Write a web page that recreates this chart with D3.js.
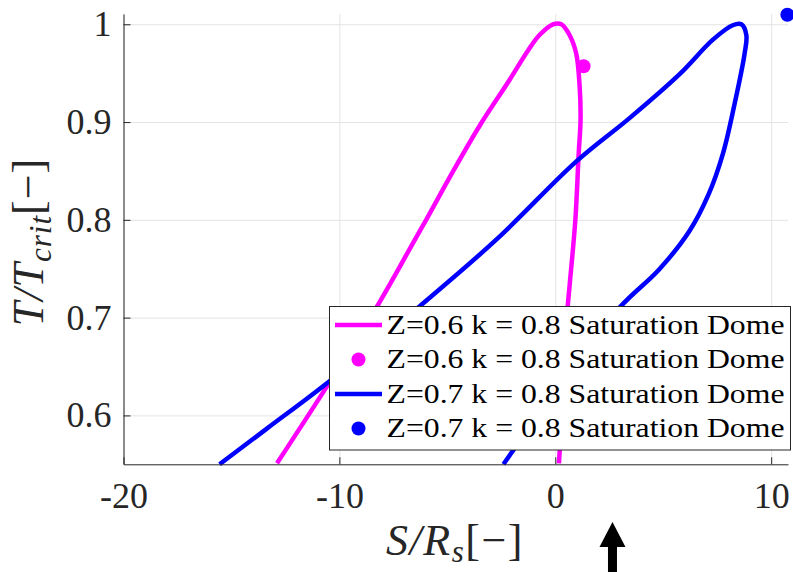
<!DOCTYPE html>
<html>
<head>
<meta charset="utf-8">
<script src="https://cdn.jsdelivr.net/npm/d3@7"></script>
<style>
  html, body { margin: 0; padding: 0; background: #fff; }
  svg { display: block; font-family: "Liberation Serif", "DejaVu Serif", serif; }
</style>
</head>
<body>
<svg id="chart" width="793" height="572"></svg>
<script>
// Saturation dome curves (S/Rs, T/Tcrit)
const domeZ06 = [
  [-12.89, 0.551], [-10.45, 0.634], [-8.24, 0.712],
  [-6.52, 0.779], [-5.98, 0.800], [-4.75, 0.849], [-3.51, 0.896],
  [-2.12, 0.943], [-1.27, 0.973], [-0.73, 0.989], [-0.11, 1.0],
  [0.28, 1.0], [0.66, 0.989], [0.97, 0.970], [1.13, 0.936],
  [1.17, 0.902], [1.08, 0.866], [0.93, 0.800], [0.66, 0.732],
  [0.58, 0.712], [0.30, 0.600], [0.17, 0.551]
];
const domeZ07 = [
  [-15.55, 0.550], [-13.39, 0.586], [-10.46, 0.635], [-6.29, 0.7115],
  [-2.72, 0.780], [0.99, 0.860], [3.44, 0.904],
  [5.76, 0.949], [7.29, 0.984], [8.22, 0.999], [8.62, 1.0],
  [8.85, 0.989], [8.77, 0.970], [8.31, 0.919], [7.77, 0.868],
  [7.10, 0.826], [6.20, 0.788], [4.80, 0.749], [3.05, 0.712],
  [0.40, 0.640], [-1.96, 0.564], [-2.40, 0.550]
];
// critical points
const critZ06 = [[1.31, 0.957]];
const critZ07 = [[10.75, 1.0098]];

const xTicks = [-20, -10, 0, 10];
const yTicks = [0.6, 0.7, 0.8, 0.9, 1];
const legendLabels = [
  'Z=0.6 k = 0.8 Saturation Dome',
  'Z=0.6 k = 0.8 Saturation Dome',
  'Z=0.7 k = 0.8 Saturation Dome',
  'Z=0.7 k = 0.8 Saturation Dome'
];
const arrowAt = 2.65; // S/Rs position of the arrow under the axis

const svg = d3.select('#chart');
const margin = { top: 14, right: 5, bottom: 107.7, left: 123.5 };
const width = 793, height = 572;
const innerH = height - margin.bottom - margin.top;

const xScale = d3.scaleLinear()
  .domain([-20, 10.78])
  .range([margin.left, width - margin.right]);

const yScale = d3.scaleLinear()
  .domain([0.55, 1.0105])
  .range([height - margin.bottom, margin.top]);

const axisColor = '#262626';
const gridColor = '#e3e3e3';

// grid lines
svg.append('g')
  .attr('transform', `translate(0,${height - margin.bottom})`)
  .call(d3.axisBottom(xScale).tickValues(xTicks).tickSize(-innerH).tickFormat(''))
  .call(g => g.select('.domain').remove())
  .call(g => g.selectAll('line').attr('stroke', gridColor));

svg.append('g')
  .attr('transform', `translate(${margin.left},0)`)
  .call(d3.axisLeft(yScale).tickValues(yTicks).tickSize(-(width - margin.right - margin.left)).tickFormat(''))
  .call(g => g.select('.domain').remove())
  .call(g => g.selectAll('line').attr('stroke', gridColor));

// curves
const line = d3.line()
  .x(d => xScale(d[0]))
  .y(d => yScale(d[1]))
  .curve(d3.curveCatmullRom.alpha(0.5));

const series = [
  { curve: domeZ06, points: critZ06, color: '#ff00ff' },
  { curve: domeZ07, points: critZ07, color: '#0000ff' }
];

series.forEach(s => {
  svg.append('path')
    .datum(s.curve)
    .attr('d', line)
    .attr('fill', 'none')
    .attr('stroke', s.color)
    .attr('stroke-width', 4.5)
    .attr('stroke-linejoin', 'round');

  svg.selectAll(null)
    .data(s.points)
    .enter().append('circle')
    .attr('cx', d => xScale(d[0]))
    .attr('cy', d => yScale(d[1]))
    .attr('r', 7)
    .attr('fill', s.color);
});

// axes
const xAxis = svg.append('g')
  .attr('transform', `translate(0,${height - margin.bottom})`)
  .call(d3.axisBottom(xScale).tickValues(xTicks).tickSize(-7).tickSizeOuter(0).tickPadding(18)
    .tickFormat(d => d < 0 ? '-' + Math.abs(d) : d));

const yAxis = svg.append('g')
  .attr('transform', `translate(${margin.left},0)`)
  .call(d3.axisLeft(yScale).tickValues(yTicks).tickSize(-7).tickSizeOuter(0).tickPadding(12)
    .tickFormat(d => d === 1 ? '1' : d3.format('.1f')(d)));

[xAxis, yAxis].forEach(ax => {
  ax.select('.domain').attr('stroke', axisColor).attr('stroke-width', 1);
  ax.selectAll('.tick line').attr('stroke', axisColor);
  ax.selectAll('.tick text')
    .attr('fill', axisColor)
    .attr('font-size', 36)
    .attr('font-family', '"Liberation Serif", "DejaVu Serif", serif');
});

// legend
const legend = svg.append('g');
legend.append('rect')
  .attr('x', 329.5).attr('y', 306.5)
  .attr('width', 461).attr('height', 143.5)
  .attr('fill', '#fff')
  .attr('stroke', axisColor)
  .attr('stroke-width', 1);

legendLabels.forEach((label, i) => {
  const s = series[Math.floor(i / 2)];
  const cy = 325 + i * 34.5;
  if (i % 2 === 0) {
    legend.append('line')
      .attr('x1', 335).attr('x2', 382)
      .attr('y1', cy).attr('y2', cy)
      .attr('stroke', s.color).attr('stroke-width', 4.5);
  } else {
    legend.append('circle')
      .attr('cx', 358.5).attr('cy', cy).attr('r', 7)
      .attr('fill', s.color);
  }
  legend.append('text')
    .attr('x', 386.5).attr('y', cy + 8.5)
    .attr('font-size', 27)
    .attr('fill', '#000')
    .attr('textLength', 398)
    .attr('lengthAdjust', 'spacingAndGlyphs')
    .text(label);
});

// axis labels
const xLabel = svg.append('text')
  .attr('x', 455).attr('y', 555)
  .attr('text-anchor', 'middle')
  .attr('font-size', 44)
  .attr('letter-spacing', 1.5)
  .attr('fill', axisColor);
xLabel.append('tspan').attr('font-style', 'italic').text('S/R');
xLabel.append('tspan').attr('font-style', 'italic').attr('font-size', 31).attr('dy', 7).text('s');
xLabel.append('tspan').attr('dy', -7).text('[−]');

const yLabel = svg.append('text')
  .attr('transform', 'translate(43,242) rotate(-90)')
  .attr('text-anchor', 'middle')
  .attr('font-size', 44)
  .attr('letter-spacing', 1)
  .attr('fill', axisColor);
yLabel.append('tspan').attr('font-style', 'italic').text('T/T');
yLabel.append('tspan').attr('font-style', 'italic').attr('font-size', 31).attr('dy', 8).text('crit');
yLabel.append('tspan').attr('dy', -8).text('[−]');

// arrow annotation under the x axis
const ax = xScale(arrowAt);
svg.append('path')
  .attr('d', `M${ax},522 L${ax - 13},547 L${ax - 4.5},547 L${ax - 4.5},572 L${ax + 4.5},572 L${ax + 4.5},547 L${ax + 13},547 Z`)
  .attr('fill', '#000');
</script>
</body>
</html>
